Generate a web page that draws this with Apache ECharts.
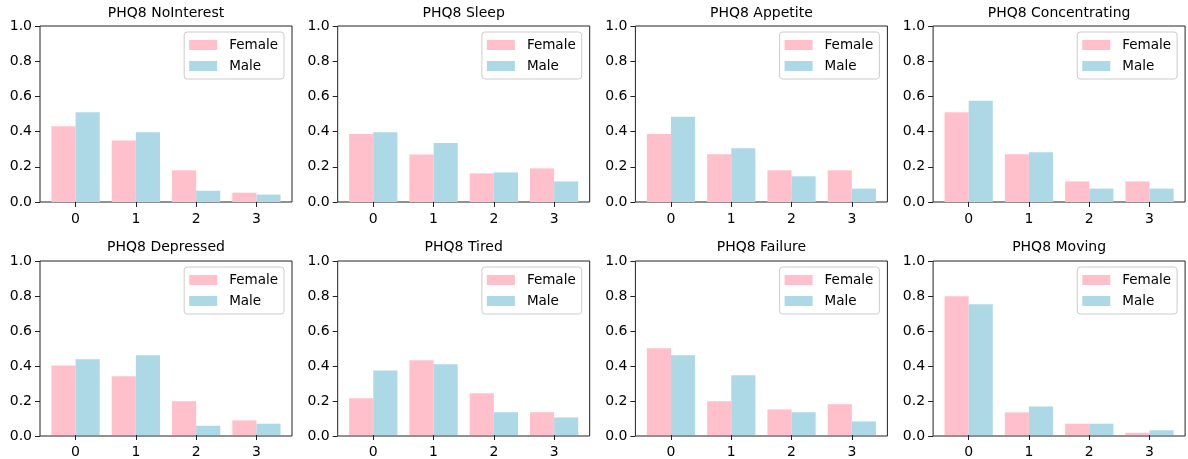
<!DOCTYPE html>
<html lang="en">
  <head>
    <meta charset="UTF-8" />
    <title>PHQ8 by gender</title>
    <script src="https://cdn.jsdelivr.net/npm/echarts/dist/echarts.min.js"></script>
    <style>
      html, body { margin: 0; padding: 0; background: #fff; }
      #box { width: 1188px; height: 459px; }
    </style>
  </head>
  <body>
    <div id="box"></div>
    <script>
      // data
      var categories = ["0", "1", "2", "3"];
      var titles = [
        "PHQ8 NoInterest", "PHQ8 Sleep", "PHQ8 Appetite", "PHQ8 Concentrating",
        "PHQ8 Depressed", "PHQ8 Tired", "PHQ8 Failure", "PHQ8 Moving"
      ];
      var yTicks = [0, 0.2, 0.4, 0.6, 0.8, 1.0];
      var female = [
        [0.431, 0.350, 0.180, 0.053],
        [0.386, 0.270, 0.163, 0.191],
        [0.386, 0.272, 0.180, 0.180],
        [0.510, 0.272, 0.117, 0.117],
        [0.400, 0.337, 0.194, 0.084],
        [0.211, 0.429, 0.240, 0.131],
        [0.499, 0.194, 0.147, 0.177],
        [0.798, 0.130, 0.065, 0.013]
      ];
      var male = [
        [0.510, 0.397, 0.064, 0.042],
        [0.397, 0.335, 0.168, 0.117],
        [0.484, 0.306, 0.146, 0.076],
        [0.575, 0.282, 0.076, 0.076],
        [0.436, 0.459, 0.053, 0.065],
        [0.371, 0.406, 0.131, 0.101],
        [0.459, 0.343, 0.131, 0.078],
        [0.752, 0.164, 0.065, 0.027]
      ];

      var W = 1188;
      var font = "DejaVu Sans";
      var colLeft = [40, 337.7, 635.4, 933.1];
      var plotW = 252;
      var rowTop = [26, 261];
      var plotH = [176, 175];
      var titleTop = [6, 240];
      var inset = plotW * 0.09 / 4.18; // matplotlib margins on the x axis
      var barW = plotW * 0.4 / 4.18;

      var grid = [], xAxis = [], yAxis = [], series = [], title = [], legend = [];

      titles.forEach(function (name, i) {
        var r = Math.floor(i / 4), c = i % 4;
        var left = colLeft[c], top = rowTop[r], h = plotH[r];

        // frame with the y axis
        grid.push({
          left: left, top: top, width: plotW, height: h,
          show: true, borderColor: "#222", borderWidth: 1, backgroundColor: "transparent"
        });
        // inner grid for the bars
        grid.push({ left: left + inset, top: top, width: plotW - 2 * inset, height: h });

        xAxis.push({ type: "value", gridIndex: 2 * i, min: 0, max: 1, show: false });
        xAxis.push({
          type: "category", gridIndex: 2 * i + 1, data: categories,
          axisLine: { show: false },
          axisTick: { show: true, alignWithLabel: true, length: 5, lineStyle: { color: "#222" } },
          axisLabel: { margin: 10, color: "#000", fontFamily: font, fontSize: 14 }
        });
        yAxis.push({
          type: "value", gridIndex: 2 * i, min: 0, max: 1, interval: 0.2,
          axisLine: { show: false },
          axisTick: { show: true, length: 5, lineStyle: { color: "#222" } },
          splitLine: { show: false },
          axisLabel: {
            margin: 8, color: "#000", fontFamily: font, fontSize: 14,
            formatter: function (v) { return v.toFixed(1); }
          }
        });
        yAxis.push({ type: "value", gridIndex: 2 * i + 1, min: 0, max: 1, show: false });

        series.push({
          name: "Female", type: "bar", xAxisIndex: 2 * i + 1, yAxisIndex: 2 * i + 1,
          data: female[i], barWidth: barW, barGap: "0%", itemStyle: { color: "#ffc0cb" }
        });
        series.push({
          name: "Male", type: "bar", xAxisIndex: 2 * i + 1, yAxisIndex: 2 * i + 1,
          data: male[i], barWidth: barW, barGap: "0%", itemStyle: { color: "#add8e6" }
        });

        title.push({
          text: name, left: left + plotW / 2, top: titleTop[r], textAlign: "center", padding: 0,
          textStyle: { fontFamily: font, fontSize: 14, fontWeight: "normal", color: "#000" }
        });
        legend.push({
          data: ["Female", "Male"], orient: "vertical",
          right: W - (left + plotW - 8), top: top + 6,
          icon: "rect", itemWidth: 28, itemHeight: 10, itemGap: 5,
          padding: [5, 6, 5, 5], borderColor: "#cccccc", borderWidth: 1, borderRadius: 3,
          backgroundColor: "rgba(255,255,255,0.8)", selectedMode: false,
          textStyle: { fontFamily: font, fontSize: 13.5, color: "#000", lineHeight: 16, padding: [0, 0, 0, 7] }
        });
      });

      var myChart = echarts.init(document.getElementById("box"));
      var option = {
        animation: false,
        title: title,
        legend: legend,
        grid: grid,
        xAxis: xAxis,
        yAxis: yAxis,
        series: series
      };
      myChart.setOption(option);
    </script>
  </body>
</html>
